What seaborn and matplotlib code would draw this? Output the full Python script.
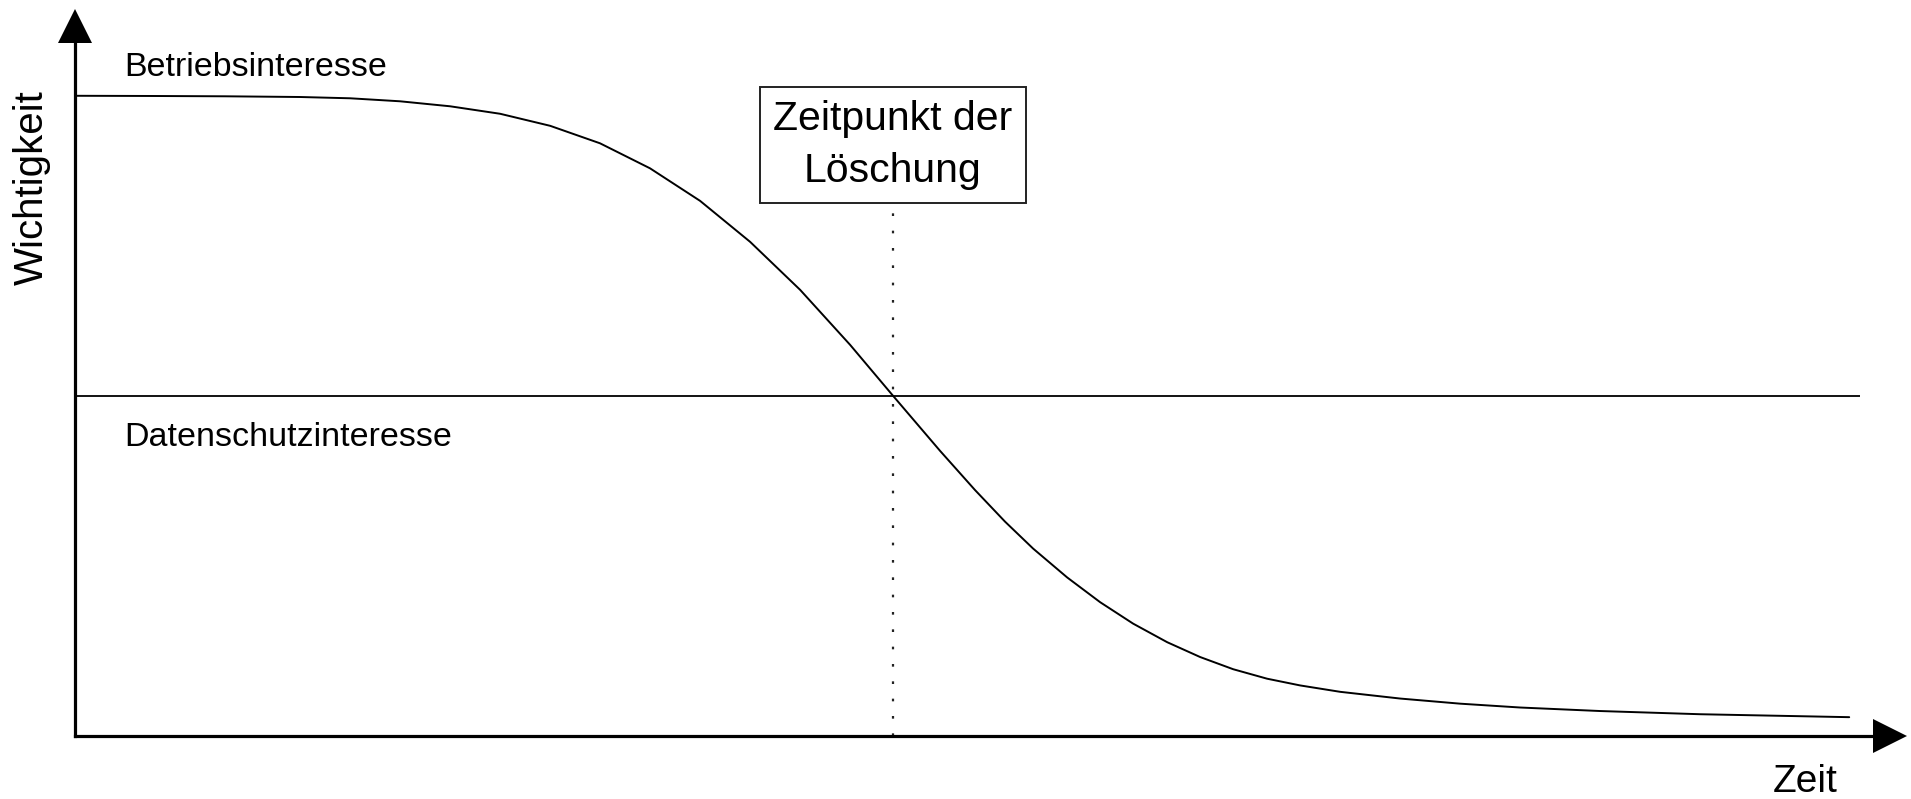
import matplotlib

matplotlib.use("Agg")
import matplotlib.pyplot as plt
import pandas as pd
import seaborn as sns

# Verlauf des Betriebsinteresses ueber die Zeit (willkuerliche Einheiten)
zeit = [0.0, 4.23, 8.46, 12.68, 15.50, 18.32, 21.14, 23.96, 26.78, 29.59,
        32.41, 35.23, 38.05, 40.87, 43.69, 46.11, 48.76, 50.73, 52.42,
        54.00, 55.92, 57.78, 59.64, 61.56, 63.42, 65.28, 67.19, 69.05,
        71.31, 74.69, 78.07, 81.45, 85.96, 91.60, 100.0]
betriebsinteresse = [100.0, 99.97, 99.92, 99.81, 99.61, 99.14, 98.36, 97.19,
                     95.31, 92.58, 88.67, 83.59, 77.19, 69.69, 61.09, 53.13,
                     44.53, 38.41, 33.48, 29.28, 24.77, 20.90, 17.55, 14.65,
                     12.33, 10.43, 8.95, 7.90, 6.90, 5.85, 5.05, 4.45, 3.90,
                     3.40, 2.94]

datenschutzinteresse = 53.1   # konstantes Niveau
datenschutz_bis = 100.6
zeitpunkt_loeschung = 46.1

df = pd.DataFrame({"Zeit": zeit, "Wichtigkeit": betriebsinteresse})

sns.set_theme(style="white")
plt.rcParams["font.family"] = ["Liberation Sans", "DejaVu Sans"]
plt.rcParams["text.color"] = "black"

fig = plt.figure(figsize=(19.11, 7.99), dpi=100)
ax = fig.add_axes([0.03925, 0.07885, 0.94977, 0.88861])

sns.lineplot(data=df, x="Zeit", y="Wichtigkeit", color="black",
             linewidth=1.4, ax=ax, solid_joinstyle="round")
ax.hlines(datenschutzinteresse, 0, datenschutz_bis, color="black",
          linewidth=1.3)
ax.vlines(zeitpunkt_loeschung, 0, 82.8, color="#222222", linewidth=1.6,
          linestyles=(0, (1.2, 6.6)))

ax.set_xlim(0, 102.3)
ax.set_ylim(0, 110.9)
ax.set_xticks([])
ax.set_yticks([])
ax.set_xlabel("")
ax.set_ylabel("")
for side in ["top", "right"]:
    ax.spines[side].set_visible(False)
for side in ["left", "bottom"]:
    ax.spines[side].set_color("black")
    ax.spines[side].set_linewidth(2.3)

# Pfeilspitzen an den Achsen
ax.plot(1, 0, marker=">", ms=24, mew=0, color="black",
        transform=ax.transAxes, clip_on=False)
ax.plot(0, 1, marker="^", ms=24, mew=0, color="black",
        transform=ax.transAxes, clip_on=False)

ax.text(2.8, 103.1, "Betriebsinteresse", fontsize=24.5, va="baseline")
ax.text(2.8, 45.3, "Datenschutzinteresse", fontsize=24.5, va="baseline")
ax.text(zeitpunkt_loeschung, 92.3, "Zeitpunkt der\nLöschung", fontsize=29.5,
        ha="center", va="center", multialignment="center", linespacing=1.45,
        bbox=dict(boxstyle="square,pad=0.32", fc="white", ec="#222222",
                  lw=1.4))

fig.text(32 / 1911, 1 - 188 / 799, "Wichtigkeit", fontsize=29, rotation=90,
         ha="center", va="center")
fig.text(1805 / 1911, 1 - 792 / 799, "Zeit", fontsize=28, ha="center",
         va="baseline")

fig.savefig("out.png", dpi=100, facecolor="white")
